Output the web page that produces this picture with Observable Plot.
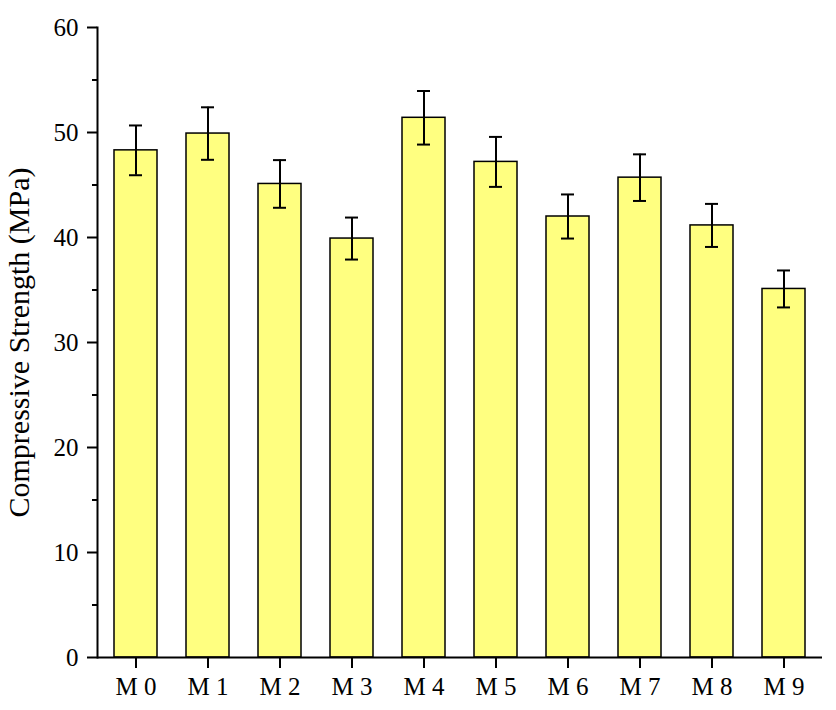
<!DOCTYPE html>
<html>
<head>
<meta charset="utf-8">
<script src="https://cdn.jsdelivr.net/npm/d3@7"></script>
<script src="https://cdn.jsdelivr.net/npm/@observablehq/plot@0.6"></script>
<style>
  html, body { margin: 0; padding: 0; background: #fff; }
  #chart { width: 836px; height: 710px; }
</style>
</head>
<body>
<div id="chart"></div>
<script>
const categories = ["M 0", "M 1", "M 2", "M 3", "M 4", "M 5", "M 6", "M 7", "M 8", "M 9"];
const strength = [48.3, 49.9, 45.1, 39.9, 51.4, 47.2, 42.0, 45.7, 41.15, 35.1];
const errors = [2.37, 2.5, 2.27, 2.0, 2.55, 2.38, 2.1, 2.22, 2.05, 1.76];
const yTicks = [0, 10, 20, 30, 40, 50, 60];
const yMinorTicks = [5, 15, 25, 35, 45, 55];
const yLabel = "Compressive Strength (MPa)";

const data = categories.map((c, i) => ({cat: c, v: strength[i], e: errors[i]}));
const font = "'Liberation Serif', 'Times New Roman', serif";

const plot = Plot.plot({
  width: 836,
  height: 710,
  marginLeft: 97,
  marginRight: 14,
  marginTop: 27,
  marginBottom: 53,
  style: {fontFamily: font, fontSize: "25px", background: "#fff", color: "#000"},
  x: {domain: categories, paddingInner: 0.4, paddingOuter: 0.2},
  y: {domain: [0, 60]},
  marks: [
    Plot.barY(data, {x: "cat", y: "v", fill: "#FFFF80", stroke: "#000", strokeWidth: 1.5}),
    Plot.ruleX(data, {x: "cat", y1: d => d.v - d.e, y2: d => d.v + d.e, stroke: "#000", strokeWidth: 2}),
    Plot.tickY(data, {x: "cat", y: d => d.v + d.e, insetLeft: 15, insetRight: 15, stroke: "#000", strokeWidth: 2}),
    Plot.tickY(data, {x: "cat", y: d => d.v - d.e, insetLeft: 15, insetRight: 15, stroke: "#000", strokeWidth: 2}),
    Plot.frame({anchor: "left", stroke: "#000", strokeWidth: 2}),
    Plot.ruleY([0], {stroke: "#000", strokeWidth: 2}),
    Plot.axisY({ticks: yTicks, tickSize: 10, tickPadding: 9, fontSize: 25, strokeWidth: 2, label: null}),
    Plot.axisY({ticks: yMinorTicks, tickSize: 5, text: null, strokeWidth: 2, label: null}),
    Plot.axisX({tickSize: 11, tickPadding: 9, fontSize: 25, strokeWidth: 2, label: null}),
    Plot.text([yLabel], {frameAnchor: "left", textAnchor: "middle", rotate: -90, dx: -78, fontSize: 30, fontFamily: font, fill: "#000"})
  ]
});
document.getElementById("chart").appendChild(plot);
</script>
</body>
</html>
